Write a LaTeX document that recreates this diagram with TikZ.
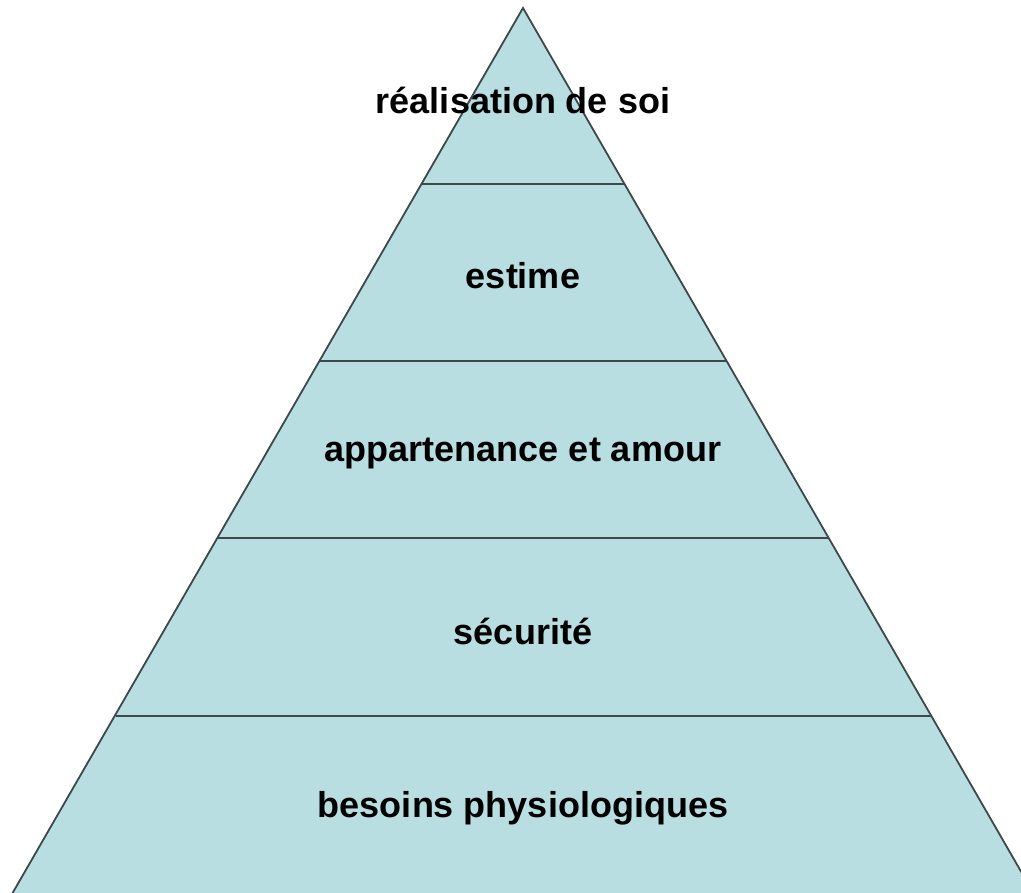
\documentclass[tikz,border=0pt]{standalone}
\usepackage{fontspec}
\setmainfont{Liberation Sans}
\usepackage{tikz}
\definecolor{tierfill}{RGB}{185,222,225}
\definecolor{tierline}{RGB}{60,72,74}

\begin{document}
\begin{tikzpicture}[x=1pt,y=-1pt,
			tier/.style={fill=tierfill,draw=tierline,line width=1.8pt,line join=miter},
			sep/.style={draw=tierline,line width=1.8pt},
			lbl/.style={font=\bfseries\fontsize{36}{42}\selectfont,inner sep=0pt}]
			\useasboundingbox (0,0) rectangle (1021,893);
			\clip (0,0) rectangle (1021,893);
			% pyramid body
			\coordinate (apex) at (523,8);
			\coordinate (bl) at (-3,920);
			\coordinate (br) at (1049,920);
			\draw[tier] (bl) -- (apex) -- (br);
			% tier separators
			\draw[sep] (421.5,184) -- (624.5,184);
			\draw[sep] (319.5,361) -- (726.5,361);
			\draw[sep] (217.5,538) -- (828.5,538);
			\draw[sep] (115.5,716) -- (930.5,716);
			% labels
			\node[lbl] (soi) at (523,100) {réalisation de soi};
			\node[lbl] (estime) at (523,276) {estime};
			\node[lbl] (amour) at (523,453) {appartenance et amour};
			\node[lbl] (secu) at (523,631) {sécurité};
			\node[lbl] (physio) at (523,808) {besoins physiologiques};
		\end{tikzpicture}
\end{document}
